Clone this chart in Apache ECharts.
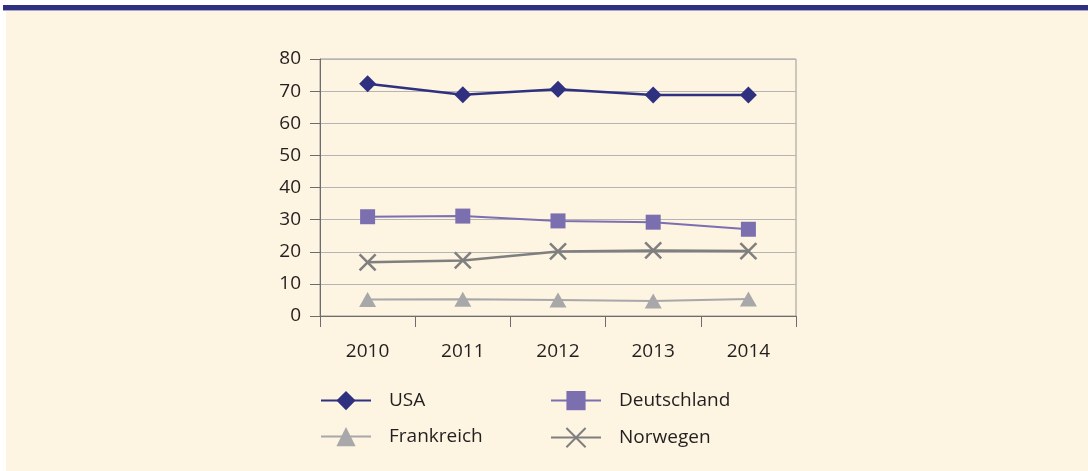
<!DOCTYPE html>
<html lang="de">
<head>
    <meta charset="UTF-8">
    <title>Chart</title>
    <style>
        html, body { margin: 0; padding: 0; background: #ffffff; }
        #main { width: 1088px; height: 471px; }
    </style>
</head>
<body>
<script src="https://cdn.jsdelivr.net/npm/echarts@6/dist/echarts.min.js"></script>
<div id="main"></div>
<script type="text/javascript">

var years = ['2010', '2011', '2012', '2013', '2014'];
var usa = [72.3, 68.9, 70.6, 68.8, 68.8];
var deutschland = [30.9, 31.1, 29.6, 29.2, 27.0];
var frankreich = [5.1, 5.2, 5.0, 4.7, 5.3];
var norwegen = [16.7, 17.3, 20.1, 20.4, 20.2];

var font = "'Open Sans', sans-serif";
var crossPath = 'path://M0,0 L10,10 M10,0 L0,10';

// one legend per entry, so the two columns line up
function legendAt(name, left, top) {
    return {
        left: left, top: top, padding: 0,
        itemWidth: 50, itemHeight: 24,
        data: [name],
        textStyle: { fontFamily: font, fontSize: 19, color: '#231f20', padding: [0, 0, 0, 13] }
    };
}

var myChart = echarts.init(document.getElementById('main'));

myChart.setOption({
    animation: false,
    graphic: [
        // cream panel and top bar
        { type: 'rect', shape: { x: 6, y: 10, width: 1082, height: 461 }, style: { fill: '#fdf4e1' }, z: -10 },
        { type: 'rect', shape: { x: 3, y: 5, width: 1085, height: 5 }, style: { fill: '#2f3180' }, z: -9 },
        { type: 'rect', shape: { x: 3, y: 10, width: 1085, height: 1 }, style: { fill: '#a7a4cf' }, z: -9 }
    ],
    grid: {
        left: 320, top: 59, width: 476, height: 257,
        show: true, borderColor: '#9a9a9a', borderWidth: 1,
        backgroundColor: 'transparent'
    },
    legend: [
        legendAt('USA', 320, 391),
        legendAt('Deutschland', 550, 391),
        legendAt('Frankreich', 320, 427),
        legendAt('Norwegen', 550, 427)
    ],
    xAxis: {
        type: 'category',
        data: years,
        boundaryGap: true,
        axisLine: { lineStyle: { color: '#6d6d6d', width: 1 } },
        axisTick: { show: true, length: 11, alignWithLabel: false, lineStyle: { color: '#6d6d6d' } },
        axisLabel: { fontFamily: font, fontSize: 19, color: '#231f20', margin: 26 }
    },
    yAxis: {
        type: 'value',
        min: 0, max: 80, interval: 10,
        axisLine: { show: true, lineStyle: { color: '#6d6d6d', width: 1 } },
        axisTick: { show: true, length: 10, lineStyle: { color: '#6d6d6d' } },
        axisLabel: { fontFamily: font, fontSize: 19, color: '#231f20', margin: 19 },
        splitLine: { lineStyle: { color: '#b4b4b4', width: 1 } }
    },
    series: [
        {
            name: 'USA', type: 'line', data: usa,
            symbol: 'diamond', symbolSize: 17,
            lineStyle: { color: '#2f3180', width: 2.5 },
            itemStyle: { color: '#2f3180' }
        },
        {
            name: 'Deutschland', type: 'line', data: deutschland,
            symbol: 'rect', symbolSize: 15,
            lineStyle: { color: '#7b6fb0', width: 2 },
            itemStyle: { color: '#7b6fb0' }
        },
        {
            name: 'Frankreich', type: 'line', data: frankreich,
            symbol: 'triangle', symbolSize: [17, 15],
            lineStyle: { color: '#a8a8aa', width: 2 },
            itemStyle: { color: '#a8a8aa' }
        },
        {
            name: 'Norwegen', type: 'line', data: norwegen,
            symbol: crossPath, symbolSize: 16,
            lineStyle: { color: '#7f7f7f', width: 2.5 },
            itemStyle: { color: 'rgba(0,0,0,0)', borderColor: '#7f7f7f', borderWidth: 2.5 }
        }
    ]
});

</script>
</body>
</html>
